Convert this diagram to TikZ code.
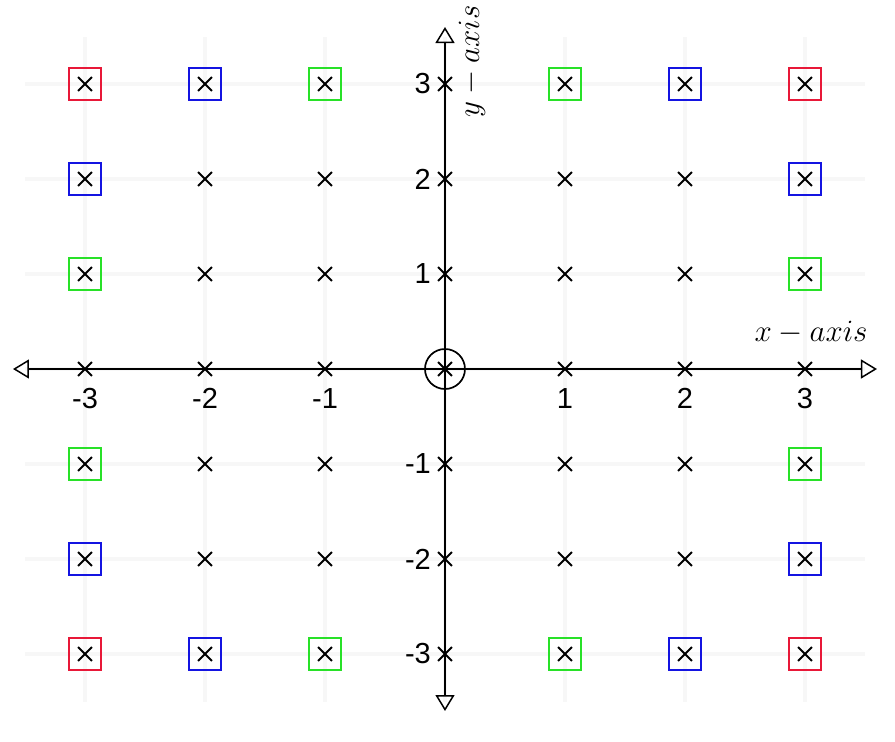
\RequirePackage{fix-cm}
\documentclass[tikz,border=0pt]{standalone}
\usepackage{fontspec}
\setsansfont{Liberation Sans}
\usetikzlibrary{arrows.meta,shapes.misc}
\definecolor{boxred}{RGB}{232,24,56}
\definecolor{boxblue}{RGB}{20,20,225}
\definecolor{boxgreen}{RGB}{40,225,40}
\begin{document}
\begin{tikzpicture}[x=60pt,y=47.5pt,
  gridline/.style={black!3, line width=2pt},
  axisline/.style={line width=0.65pt, {Triangle[open,length=8pt,width=9.5pt,line width=0.75pt]}-{Triangle[open,length=8pt,width=9.5pt,line width=0.75pt]}},
  xmark/.style={cross out, draw, line width=0.95pt, minimum size=6pt, inner sep=0pt},
  boxmark/.style={draw, line width=0.75pt, minimum size=16pt, inner sep=0pt},
  origincircle/.style={draw, circle, line width=0.85pt, minimum size=20pt, inner sep=0pt},
  numlab/.style={font=\sffamily\fontsize{14.5}{17}\selectfont, inner sep=0pt},
  axislab/.style={font=\fontsize{15.5}{18}\selectfont, inner sep=0pt}]
\useasboundingbox (-3.7083,-3.9158) rectangle (3.75,3.8842);
% grid
\foreach \i in {-3,...,3} {
  \draw[gridline] (\i,-3.5) -- (\i,3.5);
  \draw[gridline] (-3.5,\i) -- (3.5,\i);
}
% axes
\coordinate (xl) at (-3.6,0);
\coordinate (xr) at (3.6,0);
\coordinate (yb) at (0,-3.6);
\coordinate (yt) at (0,3.6);
\draw[axisline] (xl) -- (xr);
\draw[axisline] (yb) -- (yt);
% cross marks
\foreach \i in {-3,...,3} {
  \foreach \j in {-3,...,3} {
    \node[xmark] (m\i\j) at (\i,\j) {};
  }
}
% boxes
\foreach \i/\j/\c in {-3/3/boxred,-2/3/boxblue,-1/3/boxgreen,1/3/boxgreen,2/3/boxblue,3/3/boxred,
  -3/2/boxblue,3/2/boxblue,-3/1/boxgreen,3/1/boxgreen,
  -3/-1/boxgreen,3/-1/boxgreen,-3/-2/boxblue,3/-2/boxblue,
  -3/-3/boxred,-2/-3/boxblue,-1/-3/boxgreen,1/-3/boxgreen,2/-3/boxblue,3/-3/boxred} {
  \node[boxmark, draw=\c] (b\i\j) at (m\i\j) {};
}
\node[origincircle] (o) at (m00) {};
% labels
\foreach \i in {-3,-2,-1,1,2,3} {
  \node[numlab] (xn\i) at (\i,-0.31) {\i};
  \node[numlab, anchor=east] (yn\i) at (-0.115,\i) {\i};
}
\node[axislab] (xlab) at (3.05,0.379) {$x-axis$};
\node[axislab, rotate=90] (ylab) at (0.225,3.24) {$y-axis$};
\end{tikzpicture}
\end{document}
